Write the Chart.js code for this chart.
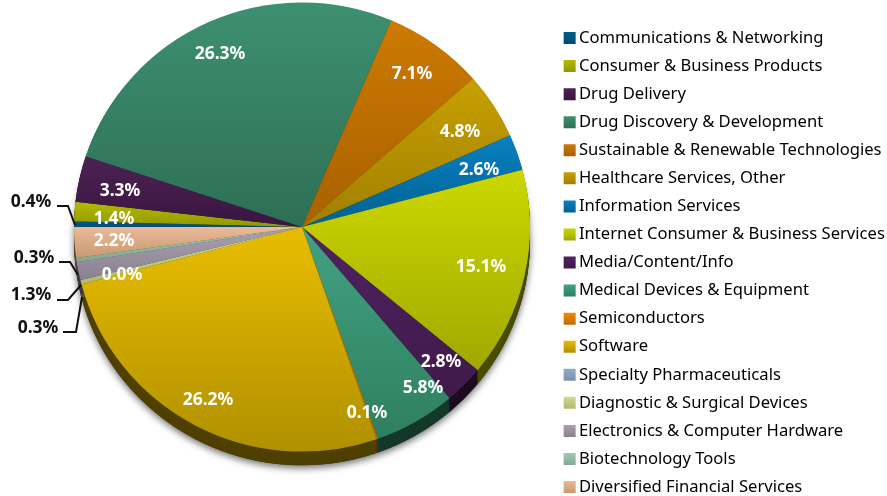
<!DOCTYPE html>
<html>
<head>
<meta charset="utf-8">
<style>
  html, body { margin: 0; padding: 0; background: #fff; }
  canvas { display: block; }
</style>
<script src="https://cdn.jsdelivr.net/npm/chart.js@4/dist/chart.umd.min.js"></script>
</head>
<body>
<canvas id="pie" width="887" height="496"></canvas>
<script>
const categories = [
    'Communications & Networking', 'Consumer & Business Products', 'Drug Delivery',
    'Drug Discovery & Development', 'Sustainable & Renewable Technologies', 'Healthcare Services, Other',
    'Information Services', 'Internet Consumer & Business Services', 'Media/Content/Info',
    'Medical Devices & Equipment', 'Semiconductors', 'Software', 'Specialty Pharmaceuticals',
    'Diagnostic & Surgical Devices', 'Electronics & Computer Hardware', 'Biotechnology Tools',
    'Diversified Financial Services'
];
const shares = [0.4, 1.4, 3.3, 26.3, 7.1, 4.8, 2.6, 15.1, 2.8, 5.8, 0.1, 26.2, 0.0, 0.3, 1.3, 0.3, 2.2];

const topColors = ['#005c8c', '#b4bc00', '#4c2254', '#3d9070', '#cc7a00', '#c8a000', '#0a80c2', '#ccd800', '#502262', '#42a282', '#f28a00', '#e8bd00', '#92aac6', '#d2da92', '#aaa2ae', '#a2cab2', '#eaba9a'];
const bottomColors = ['#004a70', '#8f9500', '#3a1540', '#2e6f55', '#a86000', '#a07f00', '#00608f', '#a0a800', '#3f1a48', '#2e7f60', '#c06c00', '#b09000', '#7890a8', '#b0b870', '#888090', '#80a890', '#c89870'];

// layout, in page pixels
const CX = 302, CY = 227, RADIUS = 228, SQUASH = 0.985, DEPTH = 14;
const FONT = 'Noto Sans', FONT_SIZE = 16.6, ROW = 28.06;
const LEGEND_LEFT = 557.2, LEGEND_TOP = 18.3, LEGEND_PAD = ROW - FONT_SIZE;

// where each share label sits, same order as categories
const labelSpots = [
    [31, 202], [114, 219], [120, 191], [220, 54], [412, 74], [460, 132], [479, 170], [481, 267],
    [441, 362], [423, 388], [367, 413], [208, 400], [122, 275], [38, 328], [31, 295], [34, 258], [114, 241]
];
const outsideLabels = [0, 13, 14, 15];
const leaders = [
    [[57, 206], [68, 206], [75, 225]],
    [[59, 262], [70, 262], [78, 275]],
    [[57, 300], [68, 300], [81, 285]],
    [[63, 332], [76, 332], [82, 297]]
];

function shade(hex, k) {
    const n = parseInt(hex.slice(1), 16);
    return `rgb(${(n >> 16) * k | 0}, ${((n >> 8) & 255) * k | 0}, ${(n & 255) * k | 0})`;
}

function sliceGradient(context) {
    const i = context.dataIndex;
    if (i === undefined) return topColors[0];
    const total = shares.reduce((a, b) => a + b, 0);
    const before = shares.slice(0, i).reduce((a, b) => a + b, 0);
    const a0 = -Math.PI + before / total * Math.PI * 2;
    const a1 = a0 + shares[i] / total * Math.PI * 2;
    let lo = CY, hi = CY;
    for (let s = 0; s <= 40; s++) {
        const y = CY + RADIUS * Math.sin(a0 + (a1 - a0) * s / 40);
        lo = Math.min(lo, y);
        hi = Math.max(hi, y);
    }
    const g = context.chart.ctx.createLinearGradient(0, lo, 0, hi + 1);
    g.addColorStop(0, topColors[i]);
    g.addColorStop(1, bottomColors[i]);
    return g;
}

const pieLayout = {
    id: 'pieLayout',
    afterLayout(chart) {
        Object.assign(chart.chartArea, {
            left: CX - RADIUS, right: CX + RADIUS, top: CY - RADIUS, bottom: CY + RADIUS,
            width: RADIUS * 2, height: RADIUS * 2
        });
        chart.legend.left = LEGEND_LEFT;
        chart.legend.top = LEGEND_TOP;
    }
};

const pieSides = {
    id: 'pieSides',
    beforeDatasetsDraw(chart) {
        const ctx = chart.ctx;
        ctx.save();
        ctx.translate(0, CY);
        ctx.scale(1, SQUASH);
        ctx.translate(0, -CY);

        ctx.save();
        ctx.shadowColor = 'rgba(0, 0, 0, 0.55)';
        ctx.shadowBlur = 7;
        ctx.shadowOffsetY = 3;
        ctx.fillStyle = '#333';
        ctx.beginPath();
        ctx.arc(CX, CY + DEPTH, RADIUS, 0, Math.PI * 2);
        ctx.fill();
        ctx.restore();

        chart.getDatasetMeta(0).data.forEach((arc, i) => {
            ctx.fillStyle = shade(bottomColors[i], 0.45);
            for (let d = DEPTH; d > 0; d--) {
                ctx.beginPath();
                ctx.moveTo(arc.x, arc.y + d);
                ctx.arc(arc.x, arc.y + d, arc.outerRadius, arc.startAngle, arc.endAngle);
                ctx.closePath();
                ctx.fill();
            }
        });
    },
    afterDatasetsDraw(chart) {
        const ctx = chart.ctx;
        ctx.restore();

        ctx.strokeStyle = '#111';
        ctx.lineWidth = 2;
        leaders.forEach(pts => {
            ctx.beginPath();
            pts.forEach((p, k) => k ? ctx.lineTo(p[0], p[1]) : ctx.moveTo(p[0], p[1]));
            ctx.stroke();
        });

        ctx.font = `bold 17.5px "${FONT}"`;
        ctx.textAlign = 'center';
        ctx.textBaseline = 'middle';
        shares.forEach((v, i) => {
            ctx.fillStyle = outsideLabels.includes(i) ? '#111' : '#fff';
            ctx.fillText(`${v.toFixed(1)}%`, labelSpots[i][0], labelSpots[i][1]);
        });
    }
};

new Chart(document.getElementById('pie'), {
    type: 'pie',
    data: {
        labels: categories,
        datasets: [{ data: shares, backgroundColor: sliceGradient, borderWidth: 0 }]
    },
    plugins: [pieLayout, pieSides],
    options: {
        responsive: false,
        animation: false,
        rotation: 270,
        layout: { padding: { bottom: -60 } },
        plugins: {
            tooltip: { enabled: false },
            legend: {
                position: 'right',
                align: 'start',
                labels: {
                    font: { family: FONT, size: FONT_SIZE },
                    color: '#222',
                    padding: LEGEND_PAD,
                    boxWidth: 2,
                    boxHeight: 2,
                    generateLabels(chart) {
                        return categories.map((text, i) => {
                            const y = LEGEND_TOP + LEGEND_PAD + FONT_SIZE / 2 - 6 + i * ROW;
                            const g = chart.ctx.createLinearGradient(0, y, 0, y + 12);
                            g.addColorStop(0, topColors[i]);
                            g.addColorStop(1, bottomColors[i]);
                            return { text, fillStyle: g, strokeStyle: g, lineWidth: 10, lineJoin: 'miter', index: i, hidden: false };
                        });
                    }
                }
            }
        }
    }
});
</script>
</body>
</html>
